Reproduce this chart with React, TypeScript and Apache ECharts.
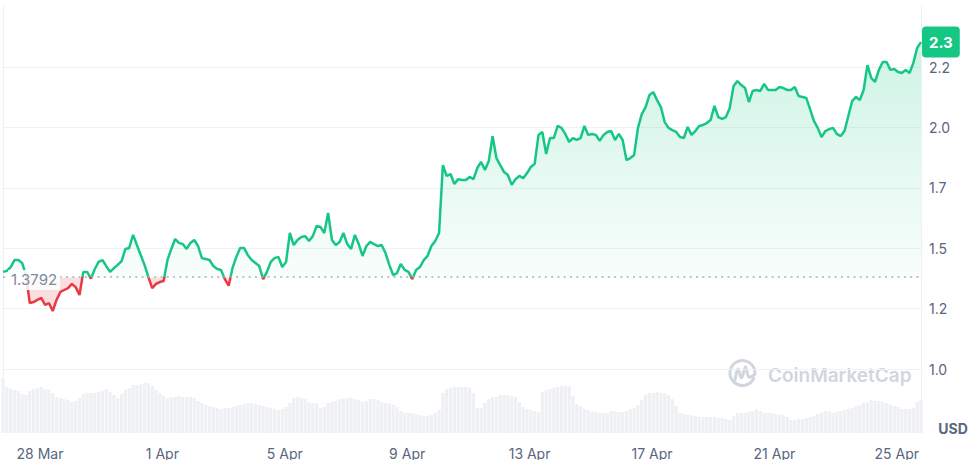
import React, { useEffect, useRef } from "react";
import * as echarts from "echarts";

// ---- data ----
const startTime = Date.UTC(2025, 2, 26, 19, 0, 0);
const stepHours = 3;
const baselinePrice = 1.3792;

const prices = [
  1.402, 1.406, 1.422, 1.451, 1.451, 1.439, 1.389, 1.273, 1.277, 1.286,
  1.294, 1.265, 1.273, 1.24, 1.286, 1.319, 1.327, 1.335, 1.352, 1.339,
  1.306, 1.402, 1.402, 1.374, 1.414, 1.443, 1.451, 1.426, 1.402, 1.418,
  1.431, 1.447, 1.497, 1.501, 1.555, 1.513, 1.472, 1.431, 1.381, 1.335,
  1.352, 1.36, 1.364, 1.451, 1.497, 1.538, 1.522, 1.517, 1.497, 1.522,
  1.534, 1.509, 1.459, 1.455, 1.451, 1.426, 1.414, 1.41, 1.372, 1.345,
  1.418, 1.464, 1.501, 1.501, 1.472, 1.451, 1.439, 1.426, 1.372, 1.402,
  1.443, 1.459, 1.464, 1.422, 1.443, 1.563, 1.513, 1.534, 1.546, 1.55,
  1.53, 1.55, 1.592, 1.588, 1.563, 1.646, 1.534, 1.513, 1.526, 1.563,
  1.517, 1.497, 1.555, 1.517, 1.468, 1.509, 1.526, 1.517, 1.509, 1.513,
  1.48, 1.431, 1.389, 1.397, 1.435, 1.41, 1.402, 1.372, 1.41, 1.422,
  1.451, 1.468, 1.509, 1.53, 1.563, 1.844, 1.799, 1.807, 1.766, 1.786,
  1.782, 1.782, 1.795, 1.786, 1.832, 1.857, 1.824, 1.861, 1.964, 1.873,
  1.844, 1.815, 1.803, 1.762, 1.786, 1.799, 1.79, 1.811, 1.836, 1.849,
  1.969, 1.981, 1.89, 1.956, 1.956, 2.006, 1.998, 1.973, 1.94, 1.956,
  1.948, 1.956, 2.006, 1.969, 1.973, 1.969, 1.944, 1.969, 1.981, 1.985,
  1.948, 1.973, 1.948, 1.865, 1.873, 1.886, 1.998, 2.055, 2.084, 2.134,
  2.146, 2.113, 2.084, 2.022, 1.998, 1.989, 1.981, 1.96, 1.956, 2.002,
  1.969, 1.985, 2.006, 2.01, 2.018, 2.031, 2.089, 2.043, 2.035, 2.043,
  2.08, 2.171, 2.192, 2.175, 2.163, 2.105, 2.151, 2.155, 2.151, 2.18,
  2.155, 2.155, 2.155, 2.167, 2.163, 2.155, 2.155, 2.167, 2.13, 2.126,
  2.122, 2.076, 2.027, 1.998, 1.96, 1.985, 1.993, 1.998, 1.973, 1.964,
  1.985, 2.047, 2.109, 2.126, 2.113, 2.155, 2.258, 2.204, 2.188, 2.238,
  2.271, 2.271, 2.238, 2.242, 2.229, 2.225, 2.238, 2.225, 2.267, 2.329,
  2.353,
];

const volumes = [
  55, 46, 44, 43, 42, 39, 38, 42, 44, 45,
  46, 44, 43, 40, 36, 35, 34, 33, 31, 32,
  35, 39, 40, 40, 40, 41, 42, 44, 41, 38,
  35, 39, 43, 45, 48, 48, 49, 50, 50, 47,
  43, 40, 37, 35, 36, 36, 37, 36, 36, 36,
  35, 32, 30, 28, 27, 26, 25, 24, 25, 25,
  26, 27, 28, 29, 30, 30, 29, 28, 27, 26,
  25, 24, 23, 24, 26, 30, 35, 36, 35, 34,
  31, 30, 30, 25, 26, 30, 31, 32, 34, 34,
  35, 35, 34, 33, 31, 32, 34, 34, 33, 31,
  30, 30, 28, 26, 22, 20, 20, 20, 19, 18,
  17, 17, 18, 20, 23, 40, 44, 45, 46, 46,
  46, 46, 45, 40, 25, 25, 30, 34, 36, 36,
  38, 38, 38, 37, 36, 31, 26, 24, 23, 22,
  21, 41, 43, 44, 45, 46, 47, 47, 47, 37,
  29, 27, 24, 23, 21, 21, 20, 20, 20, 22,
  22, 21, 21, 22, 24, 25, 28, 33, 38, 40,
  40, 41, 40, 40, 38, 34, 27, 20, 19, 18,
  18, 17, 16, 16, 16, 16, 16, 15, 15, 14,
  13, 17, 20, 20, 20, 21, 22, 24, 22, 20,
  20, 20, 19, 18, 18, 16, 13, 13, 14, 14,
  15, 16, 17, 19, 20, 22, 22, 20, 21, 22,
  23, 24, 25, 27, 28, 30, 31, 33, 32, 32,
  31, 30, 28, 27, 26, 24, 24, 24, 25, 31,
  33,
];

const tickDates = [
  Date.UTC(2025, 2, 28),
  Date.UTC(2025, 3, 1),
  Date.UTC(2025, 3, 5),
  Date.UTC(2025, 3, 9),
  Date.UTC(2025, 3, 13),
  Date.UTC(2025, 3, 17),
  Date.UTC(2025, 3, 21),
  Date.UTC(2025, 3, 25),
];
const monthNames = ["Jan", "Feb", "Mar", "Apr", "May", "Jun", "Jul", "Aug", "Sep", "Oct", "Nov", "Dec"];
const priceMin = 0.75;
const priceMax = 2.5;
const priceInterval = 0.25;
const volumeMax = 60;

const GREEN = "#16c784";
const RED = "#ea3943";
const LABEL = "#58667e";
const FONT = "Inter, 'Noto Sans', sans-serif";

const times = prices.map((_, i) => startTime + i * stepHours * 3600 * 1000);
const endTime = times[times.length - 1];
const lastPrice = prices[prices.length - 1];

const trunc1 = (v: number) => (Math.floor(v * 10 + 1e-6) / 10).toFixed(1);
const fmtDate = (val: number) => {
  const d = new Date(val);
  return `${d.getUTCDate()} ${monthNames[d.getUTCMonth()]}`;
};

export default function App() {
  const ref = useRef<HTMLDivElement>(null);

  useEffect(() => {
    document.body.style.margin = "0";
    if (!ref.current) return;
    const chart = echarts.init(ref.current, undefined, { renderer: "svg" });

    const lineData = prices.map((v, i) => [times[i], v]);
    const upData = prices.map((v, i) => [times[i], Math.max(v, baselinePrice)]);
    const downData = prices.map((v, i) => [times[i], Math.min(v, baselinePrice)]);
    const volData = volumes.map((v, i) => [times[i], v]);

    const staticGraphics: any[] = [
      {
        type: "arc",
        shape: { cx: 742.5, cy: 373, r: 12.5, startAngle: 0.35, endAngle: Math.PI * 2 + 0.05 },
        style: { stroke: "#d0d5de", lineWidth: 3, fill: "none" },
        silent: true,
      },
      {
        type: "polyline",
        shape: {
          points: [
            [735, 380],
            [738, 369],
            [741.5, 378],
            [745.5, 367],
            [749, 377],
            [755, 374],
          ],
          smooth: 0.35,
        },
        style: { stroke: "#d0d5de", lineWidth: 3, fill: "none", lineCap: "round" },
        silent: true,
      },
      {
        type: "text",
        x: 768,
        y: 375,
        style: {
          text: "CoinMarketCap",
          fill: "#d0d5de",
          fontSize: 19,
          fontWeight: 600,
          fontFamily: FONT,
          verticalAlign: "middle",
          align: "left",
        },
        silent: true,
      },
      {
        type: "text",
        x: 953,
        y: 428,
        style: {
          text: "USD",
          fill: LABEL,
          fontSize: 14,
          fontWeight: 700,
          fontFamily: FONT,
          align: "center",
          verticalAlign: "middle",
        },
        silent: true,
      },
    ];

    const option: any = {
      animation: false,
      backgroundColor: "#ffffff",
      textStyle: { fontFamily: FONT },
      grid: [
        { left: 3, right: 54, top: 6.6, height: 422.8 },
        { left: 3, right: 54, top: 373, bottom: 27 },
      ],
      xAxis: [
        {
          type: "value",
          gridIndex: 0,
          min: startTime,
          max: endTime,
          axisLabel: { show: false },
          axisLine: { show: false },
          axisTick: { show: false },
          splitLine: { show: false },
        },
        {
          type: "value",
          gridIndex: 1,
          min: startTime,
          max: endTime,
          axisLine: { show: false },
          axisTick: { show: false },
          splitLine: { show: false },
          axisLabel: { show: false },
        },
      ],
      yAxis: [
        {
          type: "value",
          gridIndex: 0,
          position: "right",
          min: priceMin,
          max: priceMax,
          interval: priceInterval,
          axisLine: { show: true, lineStyle: { color: "#eff2f5" } },
          axisTick: { show: false },
          splitLine: {
            show: true,
            lineStyle: {
              color: ["transparent", "#eff2f5", "#eff2f5", "#eff2f5", "#eff2f5", "#eff2f5", "#eff2f5", "transparent"],
              width: 1,
            },
          },
          axisLabel: {
            color: LABEL,
            fontSize: 14,
            fontFamily: FONT,
            margin: 8,
            formatter: (v: number) => (v <= priceMin + 1e-9 || v >= priceMax - 1e-9 ? "" : trunc1(v)),
          },
        },
        {
          type: "value",
          gridIndex: 0,
          position: "left",
          min: priceMin,
          max: priceMax,
          axisLine: { show: true, lineStyle: { color: "#eff2f5" } },
          axisTick: { show: false },
          axisLabel: { show: false },
          splitLine: { show: false },
        },
        {
          type: "value",
          gridIndex: 1,
          min: 0,
          max: volumeMax,
          show: false,
          splitLine: { show: false },
        },
      ],
      visualMap: {
        type: "piecewise",
        show: false,
        seriesIndex: 0,
        dimension: 1,
        pieces: [
          { min: priceMin, max: baselinePrice, color: RED },
          { min: baselinePrice, max: priceMax, color: GREEN },
        ],
      },
      series: [
        {
          name: "price",
          type: "line",
          xAxisIndex: 0,
          yAxisIndex: 0,
          data: lineData,
          showSymbol: false,
          z: 3,
          lineStyle: { width: 2.5 },
          markLine: {
            silent: true,
            symbol: ["none", "none"],
            data: [
              {
                yAxis: baselinePrice,
                lineStyle: { color: "#a6b0c3", type: [2, 4.3], width: 1.5 },
                label: { show: false },
              },
            ],
          },
        },
        {
          name: "up",
          type: "line",
          xAxisIndex: 0,
          yAxisIndex: 0,
          data: upData,
          showSymbol: false,
          silent: true,
          z: 1,
          lineStyle: { width: 0, opacity: 0 },
          areaStyle: {
            origin: baselinePrice,
            color: new echarts.graphic.LinearGradient(0, 0, 0, 1, [
              { offset: 0, color: "rgba(22,199,132,0.30)" },
              { offset: 1, color: "rgba(22,199,132,0.04)" },
            ]),
          },
        },
        {
          name: "down",
          type: "line",
          xAxisIndex: 0,
          yAxisIndex: 0,
          data: downData,
          showSymbol: false,
          silent: true,
          z: 1,
          lineStyle: { width: 0, opacity: 0 },
          areaStyle: {
            origin: baselinePrice,
            color: "rgba(234,57,67,0.24)",
          },
        },
        {
          name: "volume",
          type: "bar",
          xAxisIndex: 1,
          yAxisIndex: 2,
          data: volData,
          barWidth: 3.2,
          silent: true,
          z: 0,
          itemStyle: { color: "#eef0f3" },
        },
      ],
      graphic: staticGraphics,
    };

    try {
      chart.setOption(option);
      // date labels, baseline label and last-price tag placed through the chart's own scales
      const extra: any[] = [];
      tickDates.forEach((t) => {
        const p = chart.convertToPixel({ xAxisIndex: 1, yAxisIndex: 2 }, [t, 0]) as number[];
        extra.push({
          type: "text",
          x: p[0],
          y: p[1] + 13,
          silent: true,
          style: {
            text: fmtDate(t),
            fill: LABEL,
            fontSize: 14,
            fontFamily: FONT,
            align: "center",
            verticalAlign: "top",
          },
        });
      });
      const bp = chart.convertToPixel({ xAxisIndex: 0, yAxisIndex: 0 }, [startTime, baselinePrice]) as number[];
      extra.push({
        type: "text",
        x: bp[0] + 5,
        y: bp[1] + 2.5,
        silent: true,
        z: 100,
        style: {
          text: String(baselinePrice),
          fill: "#808a9d",
          fontSize: 15,
          fontFamily: FONT,
          align: "left",
          verticalAlign: "middle",
          backgroundColor: "rgba(255,255,255,0.85)",
          padding: [3, 3, 2, 3],
        },
      });
      const lp = chart.convertToPixel({ xAxisIndex: 0, yAxisIndex: 0 }, [endTime, lastPrice]) as number[];
      extra.push({
        type: "text",
        x: lp[0] + 1,
        y: lp[1],
        silent: true,
        z: 100,
        style: {
          text: trunc1(lastPrice),
          fill: "#ffffff",
          fontSize: 15,
          fontWeight: 700,
          fontFamily: FONT,
          align: "left",
          verticalAlign: "middle",
          backgroundColor: GREEN,
          padding: [8, 7, 8, 7],
          borderRadius: 4,
        },
      });
      chart.setOption({ graphic: staticGraphics.concat(extra) });
    } catch (e: any) {
      chart.clear();
      chart.setOption({
        graphic: [{ type: "text", x: 20, y: 20, style: { text: "ERR: " + String(e && e.stack ? e.stack : e).slice(0, 600), fontSize: 11, fill: "#000", width: 900, overflow: "break" } }],
      });
    }

    return () => chart.dispose();
  }, []);

  return <div ref={ref} style={{ width: 975, height: 460 }} />;
}
